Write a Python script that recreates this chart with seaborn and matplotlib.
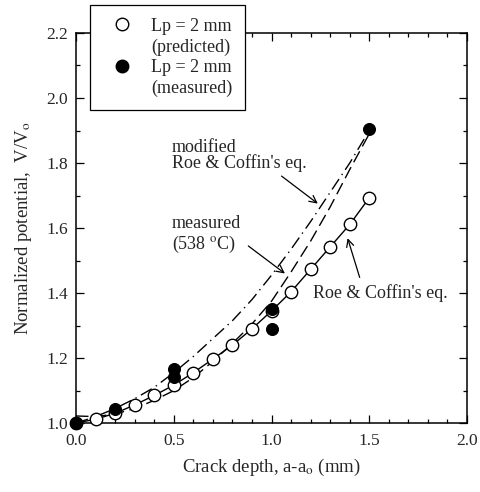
import numpy as np
import pandas as pd
import matplotlib
matplotlib.use("Agg")
import matplotlib.pyplot as plt
from matplotlib.lines import Line2D
from matplotlib.ticker import MultipleLocator, FormatStrFormatter
import seaborn as sns

# predicted points (Lp = 2 mm), joined by Roe & Coffin's eq.
pred_x = [0.0, 0.1, 0.2, 0.3, 0.4, 0.5, 0.6, 0.7, 0.8, 0.9, 1.0, 1.1, 1.2, 1.3, 1.4, 1.5]
pred_y = [1.0, 1.012, 1.03, 1.056, 1.085, 1.117, 1.155, 1.197, 1.24, 1.29, 1.345,
          1.404, 1.473, 1.542, 1.611, 1.693]

# measured points (Lp = 2 mm)
meas_x = [0.0, 0.2, 0.5, 0.5, 1.0, 1.0, 1.5]
meas_y = [1.0, 1.042, 1.165, 1.143, 1.351, 1.289, 1.904]

# modified Roe & Coffin's eq. (dash-dot)
mod_x = [0.0, 0.1, 0.2, 0.3, 0.4, 0.5, 0.6, 0.7, 0.8, 0.9, 1.0, 1.1, 1.2, 1.3, 1.4, 1.5]
mod_y = [1.0, 1.02, 1.045, 1.075, 1.11, 1.155, 1.205, 1.26, 1.315, 1.38, 1.455,
         1.535, 1.62, 1.71, 1.80, 1.9]

# measured curve at 538 C (dashed)
m538_x = [0.0, 0.1, 0.2, 0.3, 0.4, 0.5, 0.6, 0.7, 0.8, 0.9, 1.0, 1.1, 1.2, 1.3, 1.4, 1.5]
m538_y = [1.022, 1.02, 1.028, 1.045, 1.07, 1.10, 1.14, 1.19, 1.245, 1.305, 1.375,
          1.465, 1.56, 1.665, 1.78, 1.89]

sns.set_style("ticks")
plt.rcParams['font.family'] = ['Liberation Serif', 'DejaVu Serif']
plt.rcParams['mathtext.fontset'] = 'stix'

fig = plt.figure(figsize=(4.81, 4.92), dpi=100)
ax = fig.add_axes([0.158, 0.140, 0.813, 0.793])

sns.lineplot(x=mod_x, y=mod_y, ax=ax, color='black', lw=1.0,
             linestyle=(0, (9, 3.5, 1, 3.5)))
sns.lineplot(x=m538_x, y=m538_y, ax=ax, color='black', lw=1.0,
             linestyle=(0, (9, 4)))
sns.lineplot(x=pred_x, y=pred_y, ax=ax, color='black', lw=1.0)
sns.scatterplot(x=pred_x, y=pred_y, ax=ax, s=80, facecolor='white',
                edgecolor='black', linewidth=1.0, zorder=3, clip_on=False)
sns.scatterplot(x=meas_x, y=meas_y, ax=ax, s=75, color='black',
                edgecolor='black', zorder=4, clip_on=False)

ax.set_xlim(0, 2.0)
ax.set_ylim(1.0, 2.2)
ax.xaxis.set_major_locator(MultipleLocator(0.5))
ax.xaxis.set_minor_locator(MultipleLocator(0.1))
ax.yaxis.set_major_locator(MultipleLocator(0.2))
ax.yaxis.set_minor_locator(MultipleLocator(0.1))
ax.xaxis.set_major_formatter(FormatStrFormatter('%.1f'))
ax.yaxis.set_major_formatter(FormatStrFormatter('%.1f'))
ax.tick_params(which='both', direction='in', top=True, right=True,
               labelsize=12.5, width=0.9, color='black')
ax.tick_params(which='major', length=6)
ax.tick_params(which='minor', length=3)
ax.tick_params(axis='x', which='major', pad=7)
ax.tick_params(axis='y', which='major', pad=5.5)
for sp in ax.spines.values():
    sp.set_linewidth(1.1)
    sp.set_color('black')

ax.set_xlabel(r"Crack depth, a-a$_{\mathrm{o}}$ (mm)", fontsize=13.5, labelpad=6)
ax.set_ylabel(r"Normalized potential,  V/V$_{\mathrm{o}}$", fontsize=13.5, labelpad=9)

arrow = dict(arrowstyle='->', color='black', lw=0.9, mutation_scale=13)
ax.text(0.49, 1.823, "modified\nRoe & Coffin's eq.", fontsize=13, va='center',
        linespacing=0.9)
ax.annotate("", xy=(1.248, 1.67), xytext=(1.04, 1.765), arrowprops=arrow)
ax.text(0.49, 1.579, "measured\n" + r"(538 $^{\mathrm{o}}$C)", fontsize=13,
        va='center', linespacing=1.15)
ax.annotate("", xy=(1.08, 1.455), xytext=(0.87, 1.55), arrowprops=arrow)
ax.text(1.212, 1.40, "Roe & Coffin's eq.", fontsize=13, va='center')
ax.annotate("", xy=(1.385, 1.577), xytext=(1.455, 1.44), arrowprops=arrow)

handles = [
    Line2D([], [], ls='none', marker='o', ms=9, mfc='white', mec='black', mew=1.0),
    Line2D([], [], ls='none'),
    Line2D([], [], ls='none', marker='o', ms=9, mfc='black', mec='black'),
    Line2D([], [], ls='none'),
]
labels = ["Lp = 2 mm", "(predicted)", "Lp = 2 mm", "(measured)"]
leg = fig.legend(handles, labels, loc='upper left',
                 bbox_to_anchor=(90 / 481, 1 - 5 / 492), borderaxespad=0,
                 fontsize=13, frameon=True, fancybox=False, framealpha=1,
                 edgecolor='black', handletextpad=0.6, labelspacing=0.2,
                 borderpad=0.7, handlelength=2.1)
leg.get_frame().set_linewidth(0.9)

fig.savefig("out.png", dpi=100)
